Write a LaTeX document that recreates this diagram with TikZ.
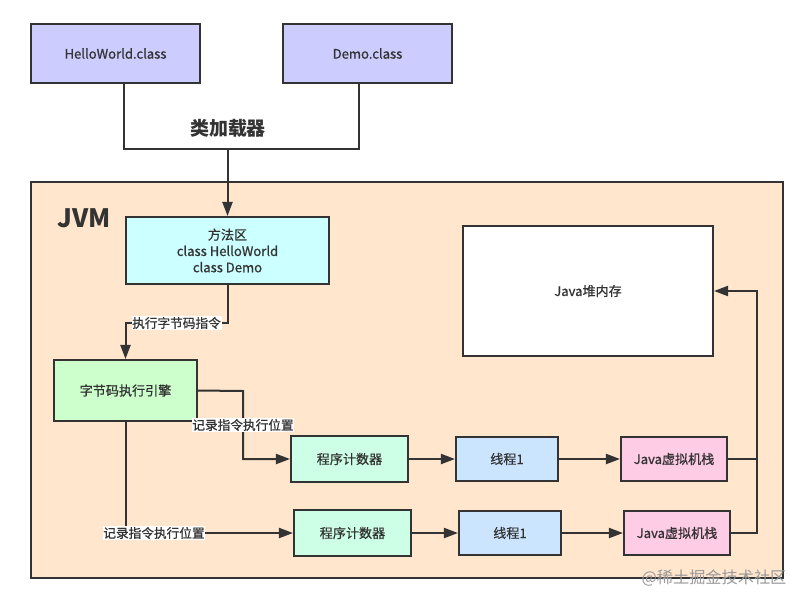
\documentclass[tikz,border=0pt]{standalone}
\usepackage{fontspec}
\setmainfont{Noto Sans CJK SC}
\newfontfamily\boxfont{Noto Sans CJK SC}[FakeBold=0.8]
\usetikzlibrary{arrows.meta}

\definecolor{ink}{HTML}{333333}
\definecolor{classfill}{HTML}{CCCCFF}
\definecolor{jvmfill}{HTML}{FFE6CC}
\definecolor{methodfill}{HTML}{CCFFFF}
\definecolor{enginefill}{HTML}{CCFFCC}
\definecolor{pcfill}{HTML}{CCFFE6}
\definecolor{threadfill}{HTML}{CCE5FF}
\definecolor{stackfill}{HTML}{FFCCE6}

\begin{document}
\begin{tikzpicture}[
    x=0.025cm, y=-0.025cm,
    box/.style={rectangle, draw=ink, line width=0.5mm, align=center, text=ink, font=\boxfont\fontsize{9.3}{11.6}\selectfont, inner sep=0pt},
    line/.style={draw=ink, line width=0.5mm},
    arrow/.style={line, -{Triangle[length=3.5mm, width=2.5mm]}},
    lbl/.style={fill=white, text=ink, font=\boxfont\fontsize{9}{10}\selectfont, inner sep=0.5pt},
]
\useasboundingbox (0,0) rectangle (808,606);

% JVM frame
\node[box, fill=jvmfill, minimum width=18.8cm, minimum height=9.9cm] (jvm) at (407,380) {};
\node[text=ink, font=\bfseries\fontsize{18}{20}\selectfont] (jvmlbl) at (84,218) {JVM};

% Class files and loader
\node[box, fill=classfill, minimum width=4.225cm, minimum height=1.475cm] (hello) at (115.5,53.5) {HelloWorld.class};
\node[box, fill=classfill, minimum width=4.225cm, minimum height=1.475cm] (demo) at (367.5,53.5) {Demo.class};
\node[text=ink, font=\bfseries\fontsize{13.5}{15}\selectfont] (loader) at (228,128) {类加载器};

% Nodes
\node[box, fill=methodfill, minimum width=5.075cm, minimum height=1.675cm] (method) at (227.5,250.5) {方法区\\class HelloWorld\\class Demo};
\node[box, fill=enginefill, minimum width=3.575cm, minimum height=1.525cm] (engine) at (125.5,390.5) {字节码执行引擎};
\node[box, fill=white, minimum width=6.25cm, minimum height=3.25cm] (heap) at (588,291) {Java堆内存};

\node[box, fill=pcfill, minimum width=2.925cm, minimum height=1.15cm] (pc1) at (349.5,459) {程序计数器};
\node[box, fill=threadfill, minimum width=2.55cm, minimum height=1.1cm] (thread1) at (507,459) {线程1};
\node[box, fill=stackfill, minimum width=2.65cm, minimum height=1.1cm] (stack1) at (674,459) {Java虚拟机栈};

\node[box, fill=pcfill, minimum width=2.925cm, minimum height=1.15cm] (pc2) at (352.5,533) {程序计数器};
\node[box, fill=threadfill, minimum width=2.55cm, minimum height=1.1cm] (thread2) at (510,533) {线程1};
\node[box, fill=stackfill, minimum width=2.65cm, minimum height=1.1cm] (stack2) at (677,533) {Java虚拟机栈};

% Connectors
\draw[line] (hello.south -| 124,0) -- (124,149) -- (359,149) -- (demo.south -| 359,0);
\draw[arrow] (method.north |- 0,149) -- (method.north);
\draw[arrow] (method.south) -- (method.south |- 0,323) -- node[lbl] {执行字节码指令} (engine.north |- 0,323) -- (engine.north);
\draw[arrow] (engine.east) -- (243,391) -- node[lbl] {记录指令执行位置} (243,459) -- (pc1.west);
\draw[arrow] (engine.south) -- (engine.south |- pc2.west) -- node[lbl, pos=0.17] {记录指令执行位置} (pc2.west);

\draw[arrow] (pc1) -- (thread1);
\draw[arrow] (thread1) -- (stack1);
\draw[arrow] (pc2) -- (thread2);
\draw[arrow] (thread2) -- (stack2);

\draw[line] (stack1.east) -- (stack1.east -| 757,0);
\draw[arrow] (stack2.east) -| (757,291) -- (heap.east);

% watermark
\node[text=black!40, font=\fontsize{11.5}{12}\selectfont] (mark) at (714,578) {@稀土掘金技术社区};

\end{tikzpicture}
\end{document}
